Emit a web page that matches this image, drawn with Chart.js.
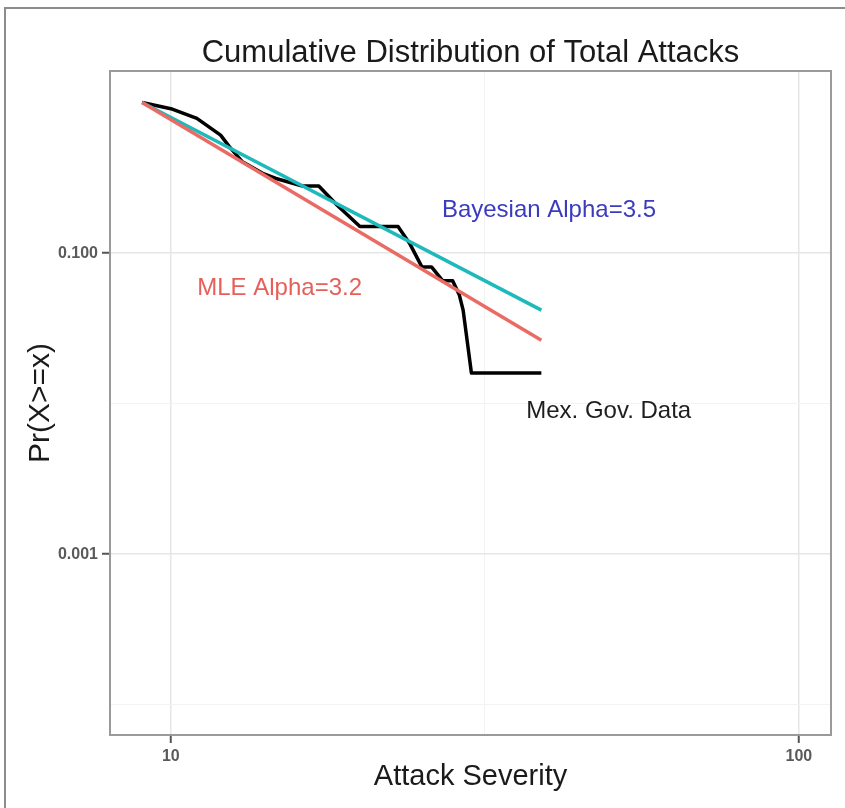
<!DOCTYPE html>
<html>
<head>
<meta charset="utf-8">
<title>Cumulative Distribution of Total Attacks</title>
<script src="https://cdn.jsdelivr.net/npm/chart.js@4.4.1/dist/chart.umd.min.js"></script>
<style>
  html, body { margin: 0; padding: 0; background: #fff; overflow: hidden; }
  #wrap { position: relative; width: 845px; height: 808px; }
  #frame {
    position: absolute; left: 4px; top: 7px; width: 900px; height: 900px;
    border: 2px solid #8c8c8c; box-sizing: border-box; pointer-events: none;
  }
  #chart { position: absolute; left: 0; top: 0; }
</style>
</head>
<body>
<div id="wrap">
  <div id="frame"></div>
  <canvas id="chart" width="845" height="808"></canvas>
</div>
<script>
// empirical CCDF (Mex. Gov. Data)
const dataX = [9, 10, 11, 12, 12.4, 13, 14, 14.7, 16.2, 17.2, 18.4, 20, 23, 24, 25.1, 26, 27.1, 28.1, 28.8, 29.2, 30.1, 38.9];
const dataY = [1.0, 0.91, 0.785, 0.608, 0.508, 0.404, 0.339, 0.313, 0.279, 0.279, 0.208, 0.15, 0.15, 0.116, 0.081, 0.081, 0.0655, 0.0655, 0.0526, 0.0418, 0.016, 0.016];

// fitted power laws
const fitX = [9, 38.9];
const bayesY = [1.0, 0.0418];
const mleY = [1.0, 0.0264];

// axes
const xMin = 8.0, xMax = 112.5;
const yMin = 6.3e-5, yMax = 1.62;
const xTicks = [10, 31.62, 100];
const xTickLabels = ["10", "", "100"];
const yTicks = [1e-4, 1e-3, 1e-2, 1e-1];
const yTickLabels = ["", "0.001", "", "0.100"];

const labels = [
  { text: "Bayesian Alpha=3.5", x: 40, y: 0.193, color: "#3b3bbf" },
  { text: "MLE Alpha=3.2", x: 14.9, y: 0.0585, color: "#e5605a" },
  { text: "Mex. Gov. Data", x: 49.8, y: 0.0089, color: "#1e1e1e" },
];

const FONT = "'Liberation Sans', Arial, sans-serif";

function toPoints(xs, ys) {
  return xs.map((x, i) => ({ x: x, y: ys[i] }));
}

function isMajor(labelsArr, index) {
  return labelsArr[index] !== "";
}

const panelPlugin = {
  id: "panel",
  afterDatasetsDraw(chart) {
    const { ctx, chartArea: a, scales } = chart;
    ctx.save();
    ctx.textAlign = "center";
    ctx.textBaseline = "middle";
    ctx.font = "24px " + FONT;
    labels.forEach((l) => {
      ctx.fillStyle = l.color;
      ctx.fillText(l.text, scales.x.getPixelForValue(l.x), scales.y.getPixelForValue(l.y));
    });
    ctx.strokeStyle = "#9a9a9a";
    ctx.lineWidth = 2;
    ctx.strokeRect(a.left, a.top, a.right - a.left, a.bottom - a.top);
    ctx.restore();
  },
};

function axisCommon(tickValues, tickLabels) {
  return {
    type: "logarithmic",
    border: { display: false },
    grid: {
      color: (c) => (c.tick && isMajor(tickLabels, c.index) ? "#e6e6e6" : "#f3f3f3"),
      lineWidth: (c) => (c.tick && isMajor(tickLabels, c.index) ? 1.5 : 1),
      tickColor: (c) => (c.tick && isMajor(tickLabels, c.index) ? "#555" : "rgba(0,0,0,0)"),
      tickLength: 8,
      tickWidth: 2,
    },
    afterBuildTicks: (scale) => {
      scale.ticks = tickValues.map((v) => ({ value: v }));
    },
    ticks: {
      autoSkip: false,
      maxRotation: 0,
      padding: 4,
      color: "#5a5a5a",
      font: { family: FONT, size: 16, weight: "bold" },
      callback: (value, index) => tickLabels[index],
    },
  };
}

function initChart() {
  const xAxis = axisCommon(xTicks, xTickLabels);
  xAxis.min = xMin;
  xAxis.max = xMax;
  xAxis.title = {
    display: true,
    text: "Attack Severity",
    color: "#1a1a1a",
    font: { family: FONT, size: 29, lineHeight: 1 },
    padding: { top: 0, bottom: 17 },
  };
  xAxis.afterFit = (scale) => { scale.height = 73; };

  const yAxis = axisCommon(yTicks, yTickLabels);
  yAxis.min = yMin;
  yAxis.max = yMax;
  yAxis.title = {
    display: true,
    text: "Pr(X>=x)",
    color: "#1a1a1a",
    font: { family: FONT, size: 30, lineHeight: 1 },
    padding: { top: 26, bottom: 0 },
  };
  yAxis.afterFit = (scale) => { scale.width = 110; };

  new Chart(document.getElementById("chart"), {
    type: "scatter",
    data: {
      datasets: [
        { label: "MLE", data: toPoints(fitX, mleY), borderColor: "#ea6b63", borderWidth: 3.5 },
        { label: "Bayesian", data: toPoints(fitX, bayesY), borderColor: "#1db9bb", borderWidth: 3.5 },
        { label: "Mex. Gov. Data", data: toPoints(dataX, dataY), borderColor: "#000", borderWidth: 3.5 },
      ].map((d) => Object.assign(d, {
        showLine: true,
        pointRadius: 0,
        tension: 0,
        borderJoinStyle: "round",
        borderCapStyle: "butt",
      })),
    },
    options: {
      responsive: false,
      devicePixelRatio: 1,
      animation: false,
      layout: { padding: { left: 0, right: 14, top: 0, bottom: 0 } },
      plugins: {
        legend: { display: false },
        tooltip: { enabled: false },
        title: {
          display: true,
          fullSize: false,
          text: "Cumulative Distribution of Total Attacks",
          color: "#1a1a1a",
          font: { family: FONT, size: 31, weight: "normal", lineHeight: 1 },
          padding: { top: 38, bottom: 2 },
        },
      },
      scales: { x: xAxis, y: yAxis },
    },
    plugins: [panelPlugin],
  });
}

document.addEventListener("DOMContentLoaded", initChart);
</script>
</body>
</html>
